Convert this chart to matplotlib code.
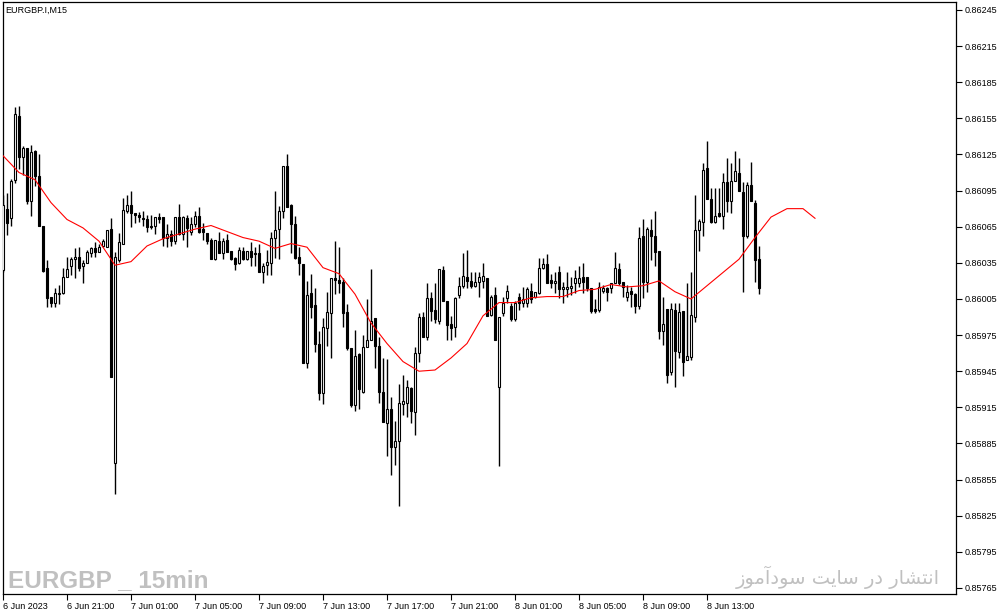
import numpy as np
import matplotlib
matplotlib.use('Agg')
import matplotlib.pyplot as plt

plt.rcParams['font.family'] = ['Liberation Sans', 'DejaVu Sans']

symbol_label = 'EURGBP.I,M15'
watermark_left = 'EURGBP _ 15min'
# "انتشار در سایت سودآموز" written in presentation forms, visual order
watermark_right = ('\uFEAF\uFEEE\uFEE3\uFE81\uFEA9\uFEEE\uFEB3 \uFE96\uFEF3\uFE8E\uFEB3 '
                   '\uFEAD\uFEA9 \uFEAD\uFE8E\uFEB8\uFE98\uFEE7\uFE8D')

time_labels = ['6 Jun 2023', '6 Jun 21:00', '7 Jun 01:00', '7 Jun 05:00',
               '7 Jun 09:00', '7 Jun 13:00', '7 Jun 17:00', '7 Jun 21:00',
               '8 Jun 01:00', '8 Jun 05:00', '8 Jun 09:00', '8 Jun 13:00']

price_ticks = [0.85765, 0.85795, 0.85825, 0.85855, 0.85885, 0.85915, 0.85945,
               0.85975, 0.86005, 0.86035, 0.86065, 0.86095, 0.86125, 0.86155,
               0.86185, 0.86215, 0.86245]

# M15 bars, 6 Jun 17:00 .. 8 Jun 16:15
opens = [0.86029, 0.86080, 0.86072, 0.86104, 0.86157, 0.86123, 0.86130, 0.86086, 0.86128, 0.86107,
         0.86066, 0.86031, 0.86007, 0.86002, 0.86009, 0.86010, 0.86023, 0.86032, 0.86038, 0.86040,
         0.86032, 0.86035, 0.86043, 0.86047, 0.86044, 0.86049, 0.86048, 0.86063, 0.85869, 0.86037,
         0.86051, 0.86078, 0.86083, 0.86076, 0.86075, 0.86072, 0.86071, 0.86066, 0.86066, 0.86073,
         0.86073, 0.86056, 0.86059, 0.86053, 0.86073, 0.86059, 0.86072, 0.86061, 0.86067, 0.86074,
         0.86063, 0.86060, 0.86054, 0.86038, 0.86053, 0.86043, 0.86054, 0.86045, 0.86039, 0.86035,
         0.86045, 0.86038, 0.86045, 0.86043, 0.86043, 0.86027, 0.86033, 0.86035, 0.86056, 0.86063,
         0.86078, 0.86115, 0.86083, 0.86067, 0.86040, 0.86034, 0.85952, 0.86010, 0.86000, 0.85968,
         0.85927, 0.85981, 0.85993, 0.86022, 0.86021, 0.86019, 0.85994, 0.85964, 0.85917, 0.85959,
         0.85928, 0.85965, 0.85971, 0.85989, 0.85966, 0.85928, 0.85902, 0.85914, 0.85882, 0.85887,
         0.85918, 0.85919, 0.85931, 0.85911, 0.85960, 0.85990, 0.85973, 0.86006, 0.85996, 0.85987,
         0.86029, 0.86003, 0.85984, 0.85982, 0.86008, 0.86016, 0.86023, 0.86020, 0.86016, 0.86019,
         0.86020, 0.86022, 0.85992, 0.86008, 0.85932, 0.85993, 0.86006, 0.85999, 0.85988, 0.86007,
         0.86002, 0.86002, 0.86012, 0.86007, 0.86010, 0.86031, 0.86034, 0.86021, 0.86018, 0.86027,
         0.86013, 0.86013, 0.86014, 0.86018, 0.86018, 0.86023, 0.86023, 0.86014, 0.85997, 0.85996,
         0.86012, 0.86014, 0.86014, 0.86018, 0.86030, 0.86019, 0.86007, 0.86012, 0.86009, 0.85999,
         0.86057, 0.86019, 0.86062, 0.86057, 0.86045, 0.85978, 0.85997, 0.85944, 0.85996, 0.85961,
         0.85995, 0.85954, 0.85957, 0.85990, 0.86062, 0.86069, 0.86114, 0.86088, 0.86069, 0.86076,
         0.86074, 0.86102, 0.86086, 0.86103, 0.86110, 0.86094, 0.86057, 0.86100, 0.86085, 0.86038]
highs = [0.86091, 0.86093, 0.86105, 0.86164, 0.86165, 0.86132, 0.86130, 0.86133, 0.86129, 0.86125,
         0.86066, 0.86037, 0.86007, 0.86014, 0.86017, 0.86031, 0.86040, 0.86040, 0.86047, 0.86048,
         0.86037, 0.86046, 0.86048, 0.86052, 0.86051, 0.86055, 0.86062, 0.86072, 0.86044, 0.86060,
         0.86089, 0.86091, 0.86095, 0.86076, 0.86077, 0.86078, 0.86075, 0.86075, 0.86073, 0.86076,
         0.86073, 0.86067, 0.86062, 0.86073, 0.86084, 0.86074, 0.86075, 0.86073, 0.86078, 0.86081,
         0.86068, 0.86060, 0.86056, 0.86054, 0.86061, 0.86056, 0.86059, 0.86045, 0.86040, 0.86048,
         0.86048, 0.86045, 0.86052, 0.86048, 0.86051, 0.86035, 0.86046, 0.86061, 0.86095, 0.86082,
         0.86115, 0.86125, 0.86084, 0.86074, 0.86048, 0.86034, 0.86020, 0.86026, 0.86014, 0.85978,
         0.85989, 0.86011, 0.86022, 0.86053, 0.86048, 0.86022, 0.86001, 0.85964, 0.85979, 0.85960,
         0.85975, 0.86005, 0.86030, 0.85989, 0.85973, 0.85956, 0.85955, 0.85924, 0.85904, 0.85934,
         0.85942, 0.85938, 0.85932, 0.85965, 0.85993, 0.85994, 0.86018, 0.86011, 0.86018, 0.86030,
         0.86032, 0.86003, 0.85991, 0.86007, 0.86023, 0.86043, 0.86046, 0.86027, 0.86027, 0.86027,
         0.86035, 0.86022, 0.86008, 0.86015, 0.85990, 0.86007, 0.86017, 0.86002, 0.86003, 0.86010,
         0.86015, 0.86015, 0.86018, 0.86011, 0.86039, 0.86039, 0.86042, 0.86026, 0.86027, 0.86032,
         0.86019, 0.86027, 0.86023, 0.86029, 0.86032, 0.86035, 0.86023, 0.86014, 0.86005, 0.86019,
         0.86017, 0.86015, 0.86018, 0.86044, 0.86035, 0.86019, 0.86017, 0.86015, 0.86010, 0.86065,
         0.86071, 0.86065, 0.86071, 0.86078, 0.86045, 0.86007, 0.85997, 0.86002, 0.86002, 0.86002,
         0.85995, 0.86018, 0.86027, 0.86091, 0.86071, 0.86118, 0.86136, 0.86097, 0.86097, 0.86097,
         0.86110, 0.86122, 0.86118, 0.86128, 0.86122, 0.86102, 0.86102, 0.86119, 0.86087, 0.86049]
lows = [0.86027, 0.86058, 0.86066, 0.86101, 0.86113, 0.86108, 0.86084, 0.86074, 0.86099, 0.86066,
        0.86027, 0.85998, 0.85998, 0.85998, 0.86001, 0.86009, 0.86023, 0.86025, 0.86022, 0.86028,
        0.86018, 0.86035, 0.86040, 0.86040, 0.86044, 0.86048, 0.86048, 0.85940, 0.85843, 0.86036,
        0.86051, 0.86076, 0.86065, 0.86068, 0.86069, 0.86066, 0.86061, 0.86063, 0.86059, 0.86068,
        0.86049, 0.86048, 0.86049, 0.86051, 0.86058, 0.86054, 0.86048, 0.86058, 0.86065, 0.86060,
        0.86054, 0.86051, 0.86038, 0.86037, 0.86043, 0.86038, 0.86044, 0.86037, 0.86029, 0.86034,
        0.86037, 0.86037, 0.86032, 0.86032, 0.86027, 0.86018, 0.86025, 0.86025, 0.86039, 0.86038,
        0.86072, 0.86081, 0.86043, 0.86038, 0.86025, 0.85952, 0.85948, 0.85989, 0.85961, 0.85921,
        0.85918, 0.85966, 0.85956, 0.86009, 0.86010, 0.85982, 0.85963, 0.85915, 0.85912, 0.85914,
        0.85927, 0.85965, 0.85971, 0.85948, 0.85919, 0.85903, 0.85875, 0.85859, 0.85867, 0.85833,
        0.85909, 0.85907, 0.85902, 0.85892, 0.85953, 0.85973, 0.85971, 0.85987, 0.85985, 0.85984,
        0.86003, 0.85971, 0.85971, 0.85973, 0.86006, 0.86014, 0.86014, 0.86014, 0.86015, 0.86007,
        0.86014, 0.85991, 0.85991, 0.85971, 0.85866, 0.85991, 0.86002, 0.85987, 0.85987, 0.85996,
        0.85998, 0.85998, 0.86002, 0.86006, 0.86009, 0.86030, 0.86018, 0.86014, 0.86010, 0.86006,
        0.86002, 0.86007, 0.86008, 0.86010, 0.86015, 0.86010, 0.86012, 0.85993, 0.85993, 0.85994,
        0.86010, 0.86003, 0.86010, 0.86018, 0.86017, 0.86007, 0.86003, 0.85998, 0.85993, 0.85997,
        0.86006, 0.86011, 0.86037, 0.86032, 0.85972, 0.85967, 0.85935, 0.85942, 0.85932, 0.85956,
        0.85941, 0.85954, 0.85954, 0.85986, 0.86045, 0.86057, 0.86088, 0.86068, 0.86068, 0.86073,
        0.86063, 0.86077, 0.86076, 0.86103, 0.86095, 0.86011, 0.86056, 0.86086, 0.86019, 0.86009]
closes = [0.86083, 0.86068, 0.86103, 0.86159, 0.86123, 0.86130, 0.86086, 0.86127, 0.86107, 0.86066,
          0.86028, 0.86006, 0.86002, 0.86010, 0.86010, 0.86023, 0.86030, 0.86038, 0.86040, 0.86031,
          0.86035, 0.86044, 0.86047, 0.86044, 0.86048, 0.86053, 0.86062, 0.85940, 0.86040, 0.86052,
          0.86079, 0.86083, 0.86076, 0.86075, 0.86073, 0.86071, 0.86065, 0.86065, 0.86073, 0.86071,
          0.86056, 0.86059, 0.86053, 0.86073, 0.86059, 0.86073, 0.86064, 0.86067, 0.86074, 0.86061,
          0.86061, 0.86053, 0.86038, 0.86054, 0.86043, 0.86053, 0.86044, 0.86038, 0.86034, 0.86046,
          0.86038, 0.86045, 0.86040, 0.86042, 0.86027, 0.86032, 0.86036, 0.86056, 0.86062, 0.86078,
          0.86115, 0.86081, 0.86067, 0.86039, 0.86035, 0.85952, 0.86008, 0.85998, 0.85968, 0.85927,
          0.85982, 0.85994, 0.86022, 0.86021, 0.86018, 0.85993, 0.85964, 0.85917, 0.85958, 0.85930,
          0.85965, 0.85971, 0.85987, 0.85966, 0.85928, 0.85903, 0.85914, 0.85882, 0.85887, 0.85919,
          0.85920, 0.85932, 0.85912, 0.85960, 0.85990, 0.85973, 0.86006, 0.85995, 0.85988, 0.86030,
          0.86003, 0.85983, 0.85981, 0.86006, 0.86016, 0.86024, 0.86020, 0.86016, 0.86019, 0.86023,
          0.86024, 0.85991, 0.86007, 0.85971, 0.85990, 0.86002, 0.86012, 0.85988, 0.86002, 0.86002,
          0.86005, 0.86013, 0.86005, 0.86011, 0.86031, 0.86034, 0.86018, 0.86018, 0.86020, 0.86013,
          0.86015, 0.86015, 0.86016, 0.86022, 0.86022, 0.86019, 0.86014, 0.85995, 0.85995, 0.86015,
          0.86014, 0.86011, 0.86018, 0.86031, 0.86018, 0.86015, 0.86011, 0.86009, 0.85999, 0.86056,
          0.86019, 0.86063, 0.86057, 0.86044, 0.85978, 0.85984, 0.85942, 0.85997, 0.85962, 0.85994,
          0.85953, 0.85958, 0.85992, 0.86062, 0.86070, 0.86112, 0.86088, 0.86069, 0.86074, 0.86074,
          0.86102, 0.86086, 0.86103, 0.86111, 0.86095, 0.86057, 0.86100, 0.86086, 0.86037, 0.86014]

# moving average, read every 4th bar (it is shifted forward past the last bar)
ma_values = [0.86124, 0.86110, 0.86104, 0.86085, 0.86071, 0.86064, 0.86053, 0.86033, 0.86036,
             0.86049, 0.86055, 0.86059, 0.86063, 0.86066, 0.86061, 0.86056, 0.86053, 0.86047,
             0.86051, 0.86048, 0.86031, 0.86026, 0.86009, 0.85985, 0.85968, 0.85953, 0.85945,
             0.85946, 0.85956, 0.85968, 0.85991, 0.86002, 0.86002, 0.86006, 0.86007, 0.86007,
             0.86012, 0.86013, 0.86017, 0.86015, 0.86016, 0.86020, 0.86011, 0.86005, 0.86016,
             0.86027, 0.86038, 0.86056, 0.86073, 0.86080, 0.86080, 0.86072]

o = np.array(opens)
h = np.array(highs)
l = np.array(lows)
c = np.array(closes)
bars = np.arange(len(o))
up = c >= o
ma_x = np.append(np.arange(0, 4 * (len(ma_values) - 1), 4), 203)

fig = plt.figure(figsize=(10.01, 6.16), dpi=100, facecolor='white')
ax = fig.add_axes([3 / 1001, 22 / 616, 953 / 1001, 592 / 616])

ax.vlines(bars, l, h, color='black', linewidth=1.0, zorder=2)
ax.bar(bars, np.abs(c - o), width=0.5, bottom=np.minimum(o, c),
       color=np.where(up, 'white', 'black'), edgecolor='black',
       linewidth=0.8, zorder=3)
ax.plot(ma_x, ma_values, color='red', linewidth=0.8, zorder=4)

ax.set_xlim(0, 238.25)
ax.set_ylim(0.857600, 0.862516)

for s in ax.spines.values():
    s.set_linewidth(0.9)
    s.set_color('black')

ax.yaxis.tick_right()
ax.set_yticks(price_ticks)
ax.set_yticklabels(['%.5f' % p for p in price_ticks])
ax.tick_params(axis='y', direction='out', length=4, width=0.8, pad=2,
               labelsize=6.5)
ax.set_xticks(np.arange(0, 16 * len(time_labels), 16))
ax.set_xticklabels(time_labels, ha='left')
ax.tick_params(axis='x', direction='out', length=4, width=0.8, pad=2,
               labelsize=6.5)

fig.text(5 / 1001, 1 - 10 / 616, symbol_label, fontsize=6.5, va='center',
         ha='left')
fig.text(8 / 1001, 1 - 587 / 616, watermark_left, fontsize=17.5,
         fontweight='bold', color='#c0c0c0', va='baseline', ha='left')
fig.text(940 / 1001, 1 - 584 / 616, watermark_right, fontsize=14,
         color='#c0c0c0', va='baseline', ha='right', family=['DejaVu Sans'])

fig.savefig('out.png', dpi=100, facecolor='white')
